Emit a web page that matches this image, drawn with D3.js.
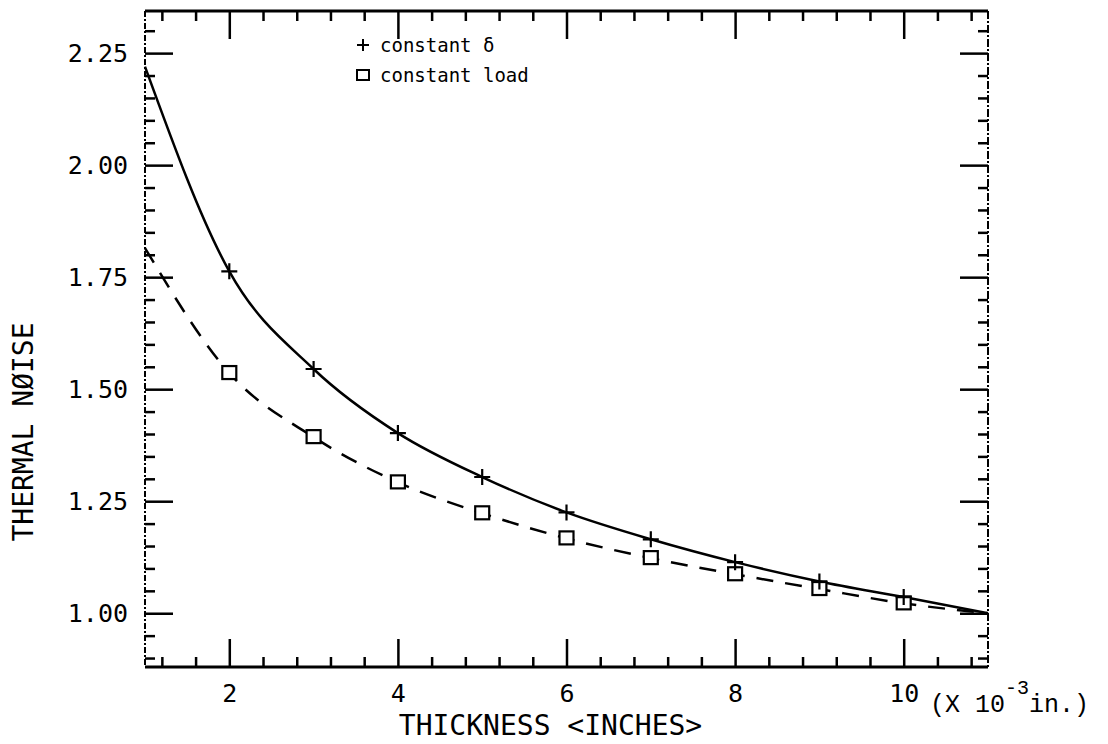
<!DOCTYPE html>
<html>
<head>
<meta charset="utf-8">
<script src="https://cdn.jsdelivr.net/npm/d3@7"></script>
<style>
body{margin:0;background:#fff;}
svg{display:block;}
</style>
</head>
<body>
<svg id="canvas" width="1108" height="744"></svg>
<script>
// data
let thickness=[1,2,3,4,5,6,7,8,9,10,11];
let constDelta=[2.22,1.763,1.545,1.402,1.304,1.225,1.165,1.114,1.071,1.036,1.0];
let constLoad=[1.815,1.536,1.393,1.292,1.223,1.167,1.123,1.087,1.054,1.022,1.0];
let xTickLabels=[2,4,6,8,10];
let yTickLabels=["1.00","1.25","1.50","1.75","2.00","2.25"];
let legendLabels=["constant \u03b4","constant load"];

let padL=145,padR=988,padT=11,padB=667;
let mono="'DejaVu Sans Mono', monospace";

let canvas=d3.select('#canvas');
let xScale=d3.scaleLinear().domain([1,11]).range([padL,padR]);
let yScale=d3.scaleLinear().domain([0.88,2.344]).range([padB,padT]);

let xMinor=d3.range(1.2,11,0.4).filter(v=>Math.abs(v/2-Math.round(v/2))>0.01);
let yMinor=d3.range(0.90,2.34,0.05).filter(v=>Math.abs(v/0.25-Math.round(v/0.25))>0.01);
let yMajor=yTickLabels.map(Number);

function styleTicks(g){g.selectAll('line').attr('stroke','#000').attr('stroke-width',2.5);g.select('.domain').remove();}

// minor ticks on all four sides
canvas.append('g').attr('transform','translate(0,'+padB+')').call(d3.axisBottom(xScale).tickValues(xMinor).tickSize(-10).tickFormat('')).call(styleTicks);
canvas.append('g').attr('transform','translate(0,'+padT+')').call(d3.axisTop(xScale).tickValues(xMinor).tickSize(-10).tickFormat('')).call(styleTicks);
canvas.append('g').attr('transform','translate('+padL+',0)').call(d3.axisLeft(yScale).tickValues(yMinor).tickSize(-10).tickFormat('')).call(styleTicks);
canvas.append('g').attr('transform','translate('+padR+',0)').call(d3.axisRight(yScale).tickValues(yMinor).tickSize(-10).tickFormat('')).call(styleTicks);

// major ticks with labels
let xAxis=canvas.append('g').attr('transform','translate(0,'+padB+')')
  .call(d3.axisBottom(xScale).tickValues(xTickLabels).tickSize(-28).tickPadding(17).tickFormat(d=>d)).call(styleTicks);
xAxis.selectAll('text').style('font',`25px ${mono}`).attr('fill','#000');
canvas.append('g').attr('transform','translate(0,'+padT+')').call(d3.axisTop(xScale).tickValues(xTickLabels).tickSize(-28).tickFormat('')).call(styleTicks);
let yAxis=canvas.append('g').attr('transform','translate('+padL+',0)')
  .call(d3.axisLeft(yScale).tickValues(yMajor).tickSize(-28).tickPadding(17).tickFormat(d3.format('.2f'))).call(styleTicks);
yAxis.selectAll('text').style('font',`25px ${mono}`).attr('fill','#000');
canvas.append('g').attr('transform','translate('+padR+',0)').call(d3.axisRight(yScale).tickValues(yMajor).tickSize(-28).tickFormat('')).call(styleTicks);

// frame
canvas.append('line').attr('x1',padL).attr('x2',padR).attr('y1',padT).attr('y2',padT).attr('stroke','#000').attr('stroke-width',3);
canvas.append('line').attr('x1',padL).attr('x2',padR).attr('y1',padB).attr('y2',padB).attr('stroke','#000').attr('stroke-width',3);
canvas.append('line').attr('x1',padL).attr('x2',padL).attr('y1',padT).attr('y2',padB).attr('stroke','#000').attr('stroke-width',2).attr('stroke-dasharray','6,2,2,2');
canvas.append('line').attr('x1',padR).attr('x2',padR).attr('y1',padT).attr('y2',padB).attr('stroke','#000').attr('stroke-width',2).attr('stroke-dasharray','8,2,2,2');

// curves
let line=d3.line().x(d=>xScale(d[0])).y(d=>yScale(d[1])).curve(d3.curveMonotoneX);
let deltaPts=thickness.map((t,i)=>[t,constDelta[i]]);
let loadPts=thickness.map((t,i)=>[t,constLoad[i]]);

canvas.append('path').datum(loadPts).attr('d',line).attr('fill','none').attr('stroke','#000').attr('stroke-width',2.5).attr('stroke-dasharray','17,12');
canvas.append('path').datum(deltaPts).attr('d',line).attr('fill','none').attr('stroke','#000').attr('stroke-width',2.5);

// markers (end points sit on the frame and are not marked)
let inner=d=>d[0]>1&&d[0]<11;
canvas.selectAll('rect.load').data(loadPts.filter(inner)).enter().append('rect').attr('class','load')
  .attr('x',d=>xScale(d[0])-7).attr('y',d=>yScale(d[1])-7).attr('width',14).attr('height',13)
  .attr('fill','#fff').attr('stroke','#000').attr('stroke-width',2.2);
canvas.selectAll('path.plus').data(deltaPts.filter(inner)).enter().append('path').attr('class','plus')
  .attr('d',d=>{let cx=xScale(d[0]),cy=yScale(d[1]);return `M${cx-8},${cy}H${cx+8}M${cx},${cy-8}V${cy+8}`;})
  .attr('stroke','#000').attr('stroke-width',2.2);

// legend
let lgX=363,lgY=[45,75];
canvas.append('path').attr('d',`M${lgX-6},${lgY[0]}H${lgX+6}M${lgX},${lgY[0]-6}V${lgY[0]+6}`).attr('stroke','#000').attr('stroke-width',2);
canvas.append('rect').attr('x',lgX-6).attr('y',lgY[1]-5).attr('width',12).attr('height',10).attr('fill','none').attr('stroke','#000').attr('stroke-width',2);
canvas.selectAll('text.legend').data(legendLabels).enter().append('text').attr('class','legend')
  .attr('x',lgX+17).attr('y',(d,i)=>lgY[i]).attr('dy','0.35em')
  .style('font',`19px ${mono}`).text(d=>d);

// axis titles
canvas.append('text').attr('x',(padL+padR)/2-16).attr('y',735).attr('text-anchor','middle')
  .style('font',`28px ${mono}`).text('THICKNESS <INCHES>');
canvas.append('text').attr('transform','translate(33,432) rotate(-90)').attr('text-anchor','middle')
  .style('font',`28px ${mono}`).text('THERMAL N\u00d8ISE');

// unit note
let unit=canvas.append('text').attr('x',930).attr('y',712).style('font',"25px 'Liberation Mono', monospace");
unit.append('tspan').text('(X 10');
unit.append('tspan').attr('dy',-18).style('font-size','20px').text('-3');
unit.append('tspan').attr('dy',18).text('in.)');
</script>
</body>
</html>
